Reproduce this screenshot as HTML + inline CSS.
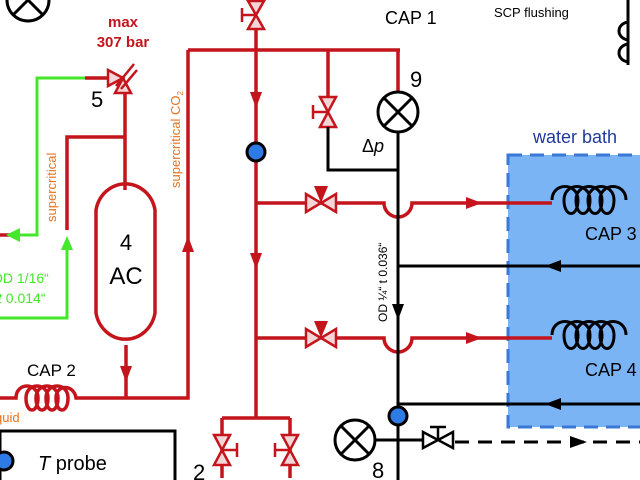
<!DOCTYPE html>
<html><head><style>body{margin:0;background:#fff}svg{display:block}</style></head><body>
<svg width="640" height="480" viewBox="0 0 640 480" xmlns="http://www.w3.org/2000/svg" font-family="Liberation Sans, sans-serif">
<!-- water bath -->
<rect x="508" y="155" width="140" height="272" fill="#7ab4f5" stroke="#3a78d8" stroke-width="3" stroke-dasharray="14,8"/>
<text x="533" y="143" font-size="18" fill="#1f3a9a">water bath</text>

<g fill="none" stroke="#c4141c" stroke-width="3.5">
<path d="M188,50H400M188,50V398H126M126,345V398M98,398H126"/>
<path d="M256,30V418M222,418H290M222,418V478M290,418V478"/>
<path d="M328,50V96M398,50V92"/>
<path d="M256,203H384a14,14 0 0 0 28,0H552"/>
<path d="M256,338H384a14,14 0 0 0 28,0H552"/>
<path d="M85,78H108M125,92V190M125,137H67V230M0,235H10"/>
<path d="M96,210a30,32 0 0 1 59,0V313a30,32 0 0 1 -59,0Z"/>
<path d="M0,398H16c0,-16 22,-16 22,0c0,16 -12,16 -12,0c0,-16 22,-16 22,0c0,16 -12,16 -12,0c0,-16 22,-16 22,0c0,16 -12,16 -12,0c0,-16 22,-16 22,0c0,16 -12,16 -12,0c0,-14 18,-14 20,0H98"/>
</g>
<g fill="#c4141c">
<path d="M250,92L262,92L256,108Z"/><path d="M250,253L262,253L256,269Z"/>
<path d="M120,366L132,366L126,382Z"/><path d="M182,252L194,252L188,236Z"/>
<path d="M466,197L466,209L482,203Z"/><path d="M466,332L466,344L482,338Z"/>
</g>
<g fill="#f4d6d8" stroke="#c4141c" stroke-width="2.5" stroke-linejoin="miter">
<path d="M248,1L264,1L256,15Z M248,29L264,29L256,15Z"/><path d="M242,8V22M242,15H256" fill="none"/>
<path d="M320,97L336,97L328,112Z M320,127L336,127L328,112Z"/><path d="M313,105V119M313,112H328" fill="none"/>
<path d="M306,194L306,212L321,203Z M336,194L336,212L321,203Z"/>
<path d="M306,329L306,347L321,338Z M336,329L336,347L321,338Z"/>
<path d="M214,435L230,435L222,450Z M214,465L230,465L222,450Z"/><path d="M237,443V457M222,450H237" fill="none"/>
<path d="M282,435L298,435L290,450Z M282,465L298,465L290,450Z"/><path d="M275,443V457M275,450H290" fill="none"/>
<path d="M108,70L108,86L123,78Z"/><path d="M115,93L131,93L123,78Z"/>
<path d="M116,86L134,64M121,89L137,70" fill="none"/>
</g>
<path d="M314,186L328,186L321,203Z M314,321L328,321L321,338Z" fill="#c4141c"/>
<g fill="none" stroke="#44e82a" stroke-width="3">
<path d="M85,78H37V235H12M67,248V318H0"/>
</g>
<path d="M6,235L20,228L20,242Z M61,250L73,250L67,236Z" fill="#44e82a"/>
<g fill="none" stroke="#000" stroke-width="3">
<path d="M398,132V480M328,127V170H398M398,266H640M398,404H640M375,440H426"/>
<path d="M455,442H640" stroke-dasharray="14,9"/>
<path d="M628,0V65M628,22c-12,2 -12,16 0,18M628,44c-12,2 -12,16 0,18"/>
<path d="M552,200c0,-18 26,-18 26,0c0,18 -14,18 -14,0c0,-18 26,-18 26,0c0,18 -14,18 -14,0c0,-18 26,-18 26,0c0,18 -14,18 -14,0c0,-18 26,-18 26,0c0,18 -14,18 -14,0c0,-18 26,-18 26,0"/>
<path d="M552,335c0,-18 26,-18 26,0c0,18 -14,18 -14,0c0,-18 26,-18 26,0c0,18 -14,18 -14,0c0,-18 26,-18 26,0c0,18 -14,18 -14,0c0,-18 26,-18 26,0c0,18 -14,18 -14,0c0,-18 26,-18 26,0"/>
<rect x="0" y="431" width="175" height="60"/>
<circle cx="28" cy="0" r="21"/><path d="M13,-15L43,15"/><path d="M13,15L28,0"/>
<circle cx="398" cy="112" r="20"/><path d="M384,98L412,126M412,98L384,126"/>
<circle cx="355" cy="440" r="20"/><path d="M341,426L369,454M369,426L341,454"/>
</g>
<path d="M392,304L404,304L398,320Z M561,260L561,272L545,266Z M561,398L561,410L545,404Z M570,436L570,448L587,442Z" fill="#000"/>
<g fill="#fff" stroke="#000" stroke-width="2.5"><path d="M423,432L423,448L438,440Z M453,432L453,448L438,440Z"/><path d="M438,440V427M430,427H446" fill="none"/></g>
<g fill="#2f7be6" stroke="#000" stroke-width="3">
<circle cx="256" cy="152" r="9"/><circle cx="398" cy="416" r="9"/><circle cx="4" cy="461" r="9"/>
</g>
<g font-weight="bold" fill="#c4141c" font-size="15" text-anchor="middle"><text x="123" y="27">max</text><text x="123" y="47">307 bar</text></g>
<text x="91" y="107" font-size="22">5</text>
<text x="410" y="87" font-size="22">9</text>
<text x="362" y="152" font-size="18">Δ<tspan font-style="italic">p</tspan></text>
<text x="385" y="24" font-size="18">CAP 1</text>
<text x="494" y="17" font-size="13">SCP flushing</text>
<text x="585" y="240" font-size="18">CAP 3</text>
<text x="585" y="376" font-size="18">CAP 4</text>
<text x="27" y="376" font-size="17">CAP 2</text>
<text x="126" y="250" font-size="22" text-anchor="middle">4</text>
<text x="126" y="284" font-size="24" text-anchor="middle">AC</text>
<text x="372" y="478" font-size="22">8</text>
<text x="193" y="480" font-size="22">2</text>
<text x="38" y="470" font-size="20"><tspan font-style="italic">T</tspan> probe</text>
<text x="-5" y="422" font-size="13" fill="#e8731e">quid</text>
<g fill="#44e82a" font-size="14"><text x="-8" y="283">OD 1/16“</text><text x="-2" y="303"><tspan font-style="italic">t</tspan> 0.014“</text></g>
<text transform="translate(56,222) rotate(-90)" font-size="13" fill="#e8731e">supercritical</text>
<text transform="translate(180,188) rotate(-90)" font-size="13" fill="#e8731e">supercritical CO<tspan font-size="8" dy="3">2</tspan></text>
<text transform="translate(387,322) rotate(-90)" font-size="12">OD ¼“ t 0.036“</text>
</svg>
</body></html>
